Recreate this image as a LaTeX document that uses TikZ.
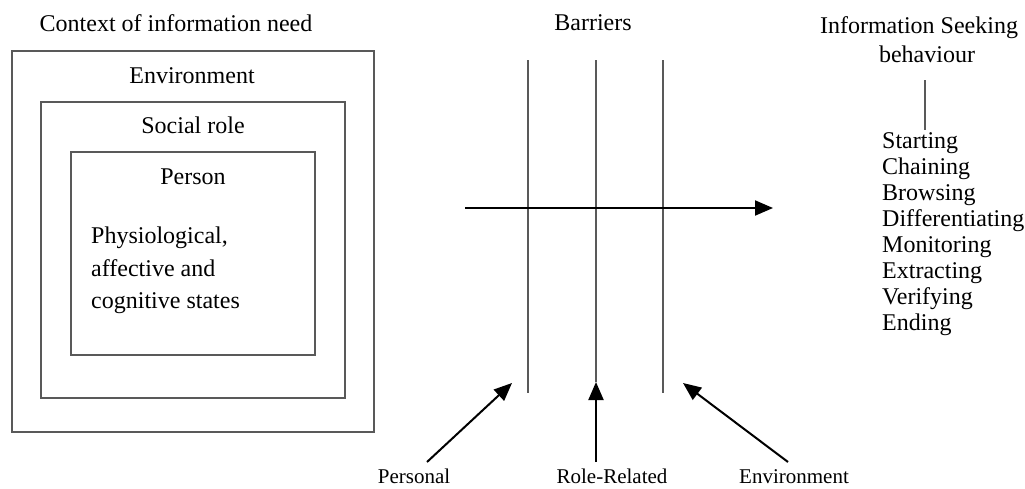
\documentclass[tikz,border=0pt]{standalone}
\usepackage{fontspec}
\setmainfont{Liberation Serif}
\usepackage{tikz}
\usetikzlibrary{arrows.meta}

\begin{document}
\begin{tikzpicture}[x=1pt, y=-1pt,
    txt/.style={inner sep=0pt, anchor=base, font=\rmfamily\fontsize{24}{26}\selectfont},
    small/.style={inner sep=0pt, anchor=base, font=\rmfamily\fontsize{21}{23}\selectfont},
    box/.style={draw=black!65, line width=1.4pt, inner sep=0pt},
    barrier/.style={draw=black!65, line width=1.4pt},
    push/.style={line width=2pt, -{Triangle[length=18pt, width=15pt]}}]
    \useasboundingbox (0, 0) rectangle (1025, 488);
    % context of information need
    \node [txt] (0) at (176, 31) {Context of information need};
    \node [box, minimum width=362, minimum height=381] (1) at (193, 241.5) {};
    \node [box, minimum width=304, minimum height=296] (2) at (193, 250) {};
    \node [box, minimum width=244, minimum height=203] (3) at (193, 253.5) {};
    \node [txt] (4) at (192, 83) {Environment};
    \node [txt] (5) at (193, 133) {Social role};
    \node [txt] (6) at (193, 184) {Person};
    \node [txt, anchor=base west] (7) at (91, 243) {Physiological,};
    \node [txt, anchor=base west] (8) at (91, 276) {affective and};
    \node [txt, anchor=base west] (9) at (91, 308) {cognitive states};
    % barriers
    \node [txt] (10) at (593, 30) {Barriers};
    \coordinate (11) at (528, 60);
    \coordinate (12) at (528, 393);
    \coordinate (13) at (596, 60);
    \coordinate (14) at (596, 382);
    \coordinate (15) at (663, 60);
    \coordinate (16) at (663, 393);
    \draw [barrier] (11) to (12);
    \draw [barrier] (13) to (14);
    \draw [barrier] (15) to (16);
    \coordinate (17) at (465, 208);
    \coordinate (18) at (773, 208);
    \draw [push] (17) to (18);
    % sources of the barriers
    \node [small] (19) at (414, 483) {Personal};
    \node [small] (20) at (612, 483) {Role-Related};
    \node [small] (21) at (794, 483) {Environment};
    \coordinate (22) at (427, 462);
    \coordinate (23) at (512, 383);
    \coordinate (24) at (596, 462);
    \coordinate (25) at (788, 462);
    \coordinate (26) at (683, 383);
    \draw [push] (22) to (23);
    \draw [push] (24) to (14);
    \draw [push] (25) to (26);
    % information seeking behaviour
    \node [txt] (27) at (919, 33) {Information Seeking};
    \node [txt] (28) at (927, 62) {behaviour};
    \coordinate (29) at (925, 80);
    \coordinate (30) at (925, 130);
    \draw [barrier] (29) to (30);
    \foreach \item [count=\i from 0] in {Starting, Chaining, Browsing, Differentiating,
        Monitoring, Extracting, Verifying, Ending}
        \node [txt, anchor=base west] (s\i) at (882, 148 + 26*\i) {\item};
\end{tikzpicture}
\end{document}
